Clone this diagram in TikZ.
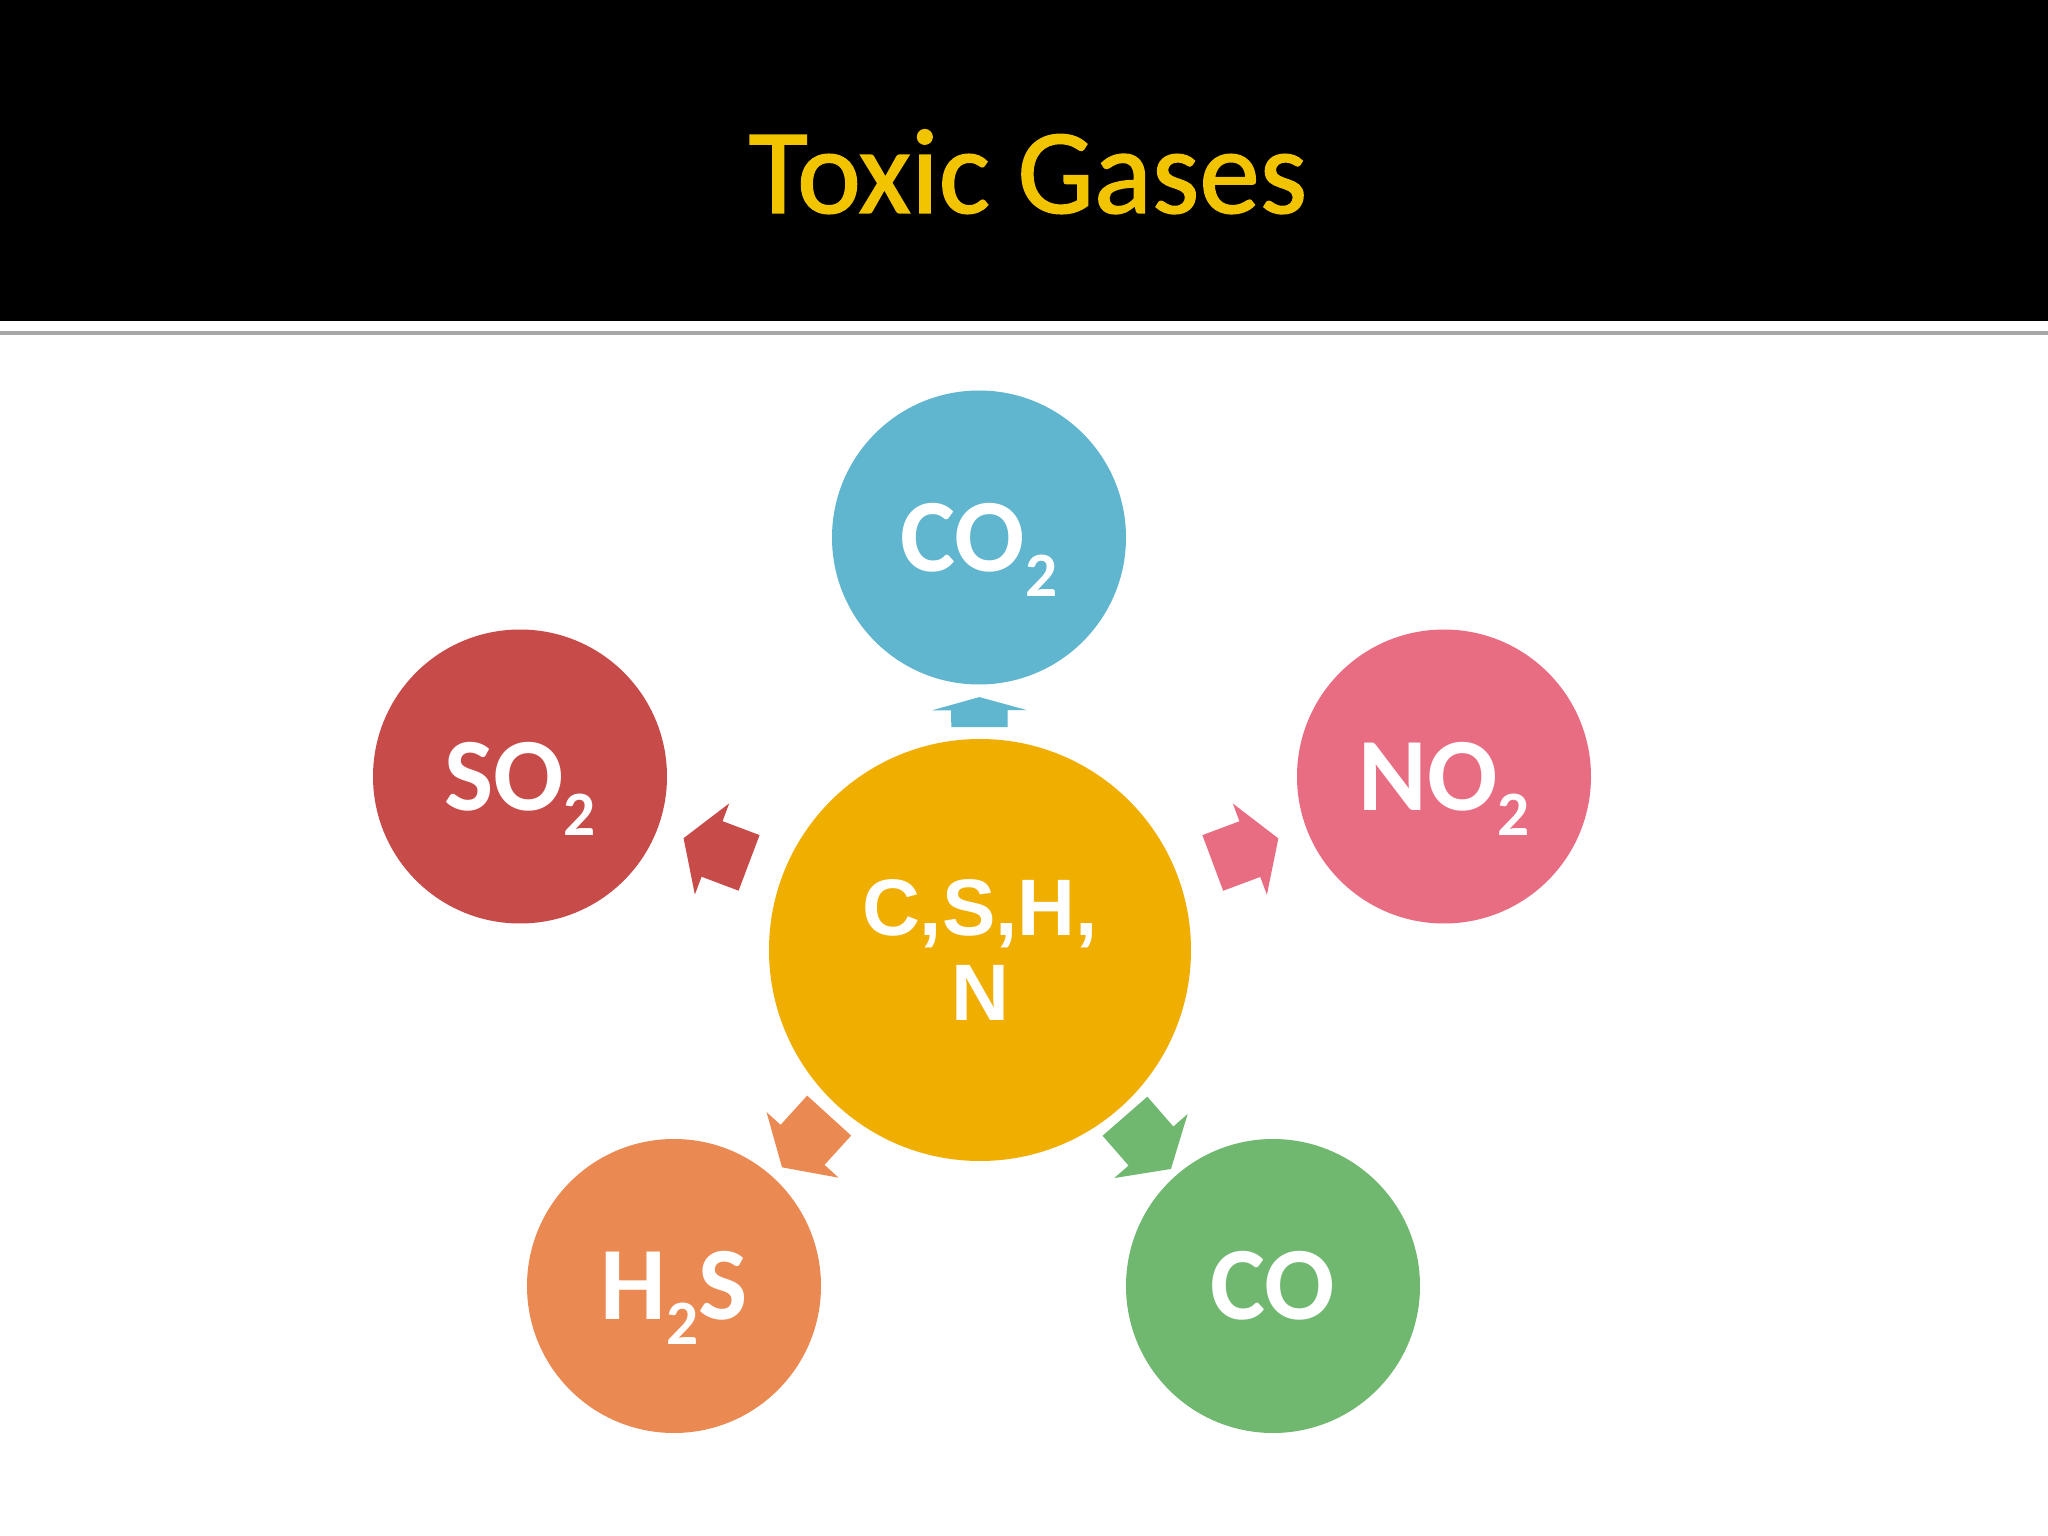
\documentclass[tikz,border=0pt]{standalone}
\usepackage{fontspec}
\setmainfont{Carlito}
\newfontfamily\titlefont[FakeBold=1.2]{Carlito}
\newfontfamily\arialfont{Liberation Sans}
\usetikzlibrary{shapes.arrows,positioning,calc}

\definecolor{titleyellow}{RGB}{242,196,0}
\definecolor{coregold}{RGB}{240,174,0}
\definecolor{co2blue}{RGB}{96,181,207}
\definecolor{so2red}{RGB}{199,75,72}
\definecolor{no2pink}{RGB}{232,109,130}
\definecolor{h2sorange}{RGB}{234,137,82}
\definecolor{cogreen}{RGB}{112,183,112}

% lowered index digit, kept out of the box height
\newcommand{\gassub}[1]{\raisebox{-0.25cm}[0pt][0pt]{\fontsize{18pt}{20pt}\selectfont #1}}

\begin{document}
\begin{tikzpicture}[
    gas/.style={circle, minimum size=2.94cm, inner sep=0pt, text=white, font=\fontsize{29.6pt}{34pt}\selectfont\bfseries},
    gasarrow/.style={single arrow, sloped, allow upside down, inner xsep=0pt, inner ysep=0.29cm, minimum height=0.70cm, minimum width=0pt, single arrow head extend=0.19cm, single arrow tip angle=116}
]

\useasboundingbox (0,0) rectangle (20.48,-15.36);
\fill[white] (0,0) rectangle (20.48,-15.36);

% Title bar
\fill[black] (0,0) rectangle (20.48,-3.21);
\draw[gray!70, line width=0.04cm] (0,-3.33) -- (20.48,-3.33);
\node[anchor=base, text=titleyellow, font=\titlefont\fontsize{34.5pt}{40pt}\selectfont] (title) at (10.28,-2.13) {Toxic Gases};

% Centre: the elements
\node[circle, fill=coregold, minimum size=4.22cm, inner sep=0pt, text=white, align=center,
    font=\arialfont\fontsize{22.8pt}{24.2pt}\selectfont\bfseries] (core) at (9.80,-9.50) {C,S,H,\\N};

% Gases round it
\node[gas, fill=co2blue] (co2) at (9.79,-5.375) {CO\gassub{2}};
\node[gas, fill=so2red] (so2) at (5.20,-7.765) {SO\gassub{2}};
\node[gas, fill=no2pink] (no2) at (14.44,-7.765) {NO\gassub{2}};
\node[gas, fill=h2sorange] (h2s) at (6.74,-12.86) {H\gassub{2}S};
\node[gas, fill=cogreen] (co) at (12.73,-12.86) {CO};

% Block arrows in the gaps
\path (core) -- node[gasarrow, fill=co2blue, pos=0.42, minimum height=0.30cm, inner ysep=0.275cm,
    single arrow head extend=0.195cm, single arrow tip angle=149] (a-co2) {} (co2);
\foreach \g/\c/\p in {so2/so2red/0.46, no2/no2pink/0.46, h2s/h2sorange/0.40, co/cogreen/0.40}
    \path (core) -- node[gasarrow, fill=\c, pos=\p] (a-\g) {} (\g);

\end{tikzpicture}
\end{document}
